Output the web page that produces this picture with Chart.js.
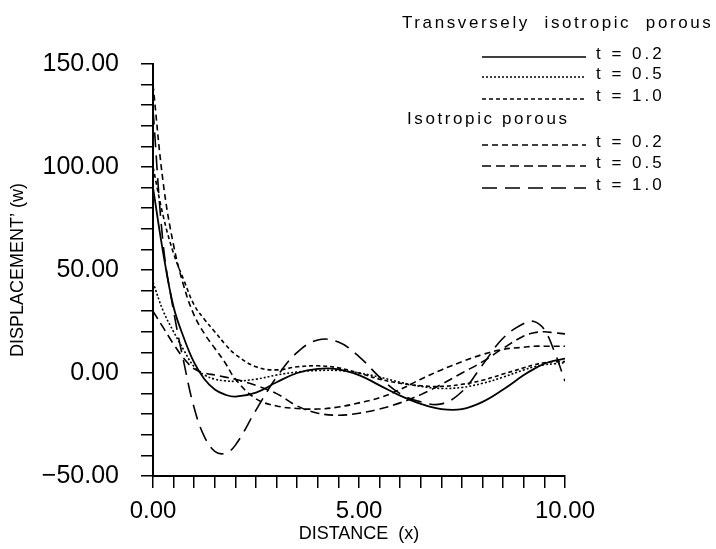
<!DOCTYPE html>
<html>
<head>
<meta charset="utf-8">
<script src="https://cdn.jsdelivr.net/npm/chart.js@4.4.1/dist/chart.umd.min.js"></script>
<style>
  html, body { margin: 0; padding: 0; background: #fff; }
  canvas { display: block; }
</style>
</head>
<body>
<canvas id="grafico" width="716" height="549"></canvas>
<script>
// distance values shared by all curves
const distancia = [0, 0.25, 0.5, 0.75, 1, 1.25, 1.5, 1.75, 2, 2.5, 3, 3.5, 4, 4.5, 5, 5.5, 6, 6.5, 7, 7.5, 8, 8.5, 9, 9.25, 9.5, 9.75, 10];

// transversely isotropic porous
const transT02 = [90, 58, 32, 17, 5, -3, -8, -10.5, -11.5, -9.5, -4.5, 0, 2, 1.8, -1, -6, -11, -15, -17.5, -17.5, -14, -8, -1, 2, 4.5, 6, 7];
const transT05 = [44, 30, 20, 11, 3, -1, -3, -3.8, -4, -3, -1, 0.5, 1.2, 1.2, 0, -2, -4.5, -6.5, -7.5, -7, -5, -2, 1.5, 3, 4, 4.5, 5];
const transT10 = [100, 76, 58, 45, 33, 26, 20, 14, 9, 3, 1.5, 3, 3.5, 2.5, 0, -3, -5, -6.2, -6.5, -5.5, -3.5, -0.5, 2.5, 4, 5, 5.5, 5.5];

// isotropic porous
const isoT02 = [140, 92, 62, 42, 28, 19, 12, 5, -3, -12.5, -16, -17.2, -17.5, -16.5, -14.5, -12, -8, -3, 1.5, 5.5, 9, 11.5, 12.5, 13, 13, 13, 13];
const isoT05 = [30, 22, 14, 7, 2, 0, -1, -2, -3, -6, -10, -16, -19.5, -20.5, -19.5, -17.5, -14.5, -10.5, -5.5, 0, 5.5, 12, 18, 19.5, 20, 19.5, 19];
const isoT10 = [128, 62, 30, 5, -17, -31, -38, -39, -35, -18, -2, 10, 16, 15, 8, -2, -10, -14, -15, -9, 4, 17, 24, 25, 21, 10, -4];

const grupos = ['Transversely  isotropic  porous', 'Isotropic porous'];
const etiquetas = ['t = 0.2', 't = 0.5', 't = 1.0'];

const yTickValores = [-50, 0, 50, 100, 150];
const yTickTextos = ['\u221250.00', '0.00', '50.00', '100.00', '150.00'];
const xTickValores = [0, 5, 10];
const xTickTextos = ['0.00', '5.00', '10.00'];

const series = [transT02, transT05, transT10, isoT02, isoT05, isoT10];
const trazos = [[], [2, 2], [4, 3], [6, 4], [9, 5], [15, 8]];

const datasets = series.map((valores, i) => ({
  label: etiquetas[i % 3],
  data: valores.map((v, j) => ({ x: distancia[j], y: v })),
  borderColor: '#000',
  borderWidth: i === 0 ? 1.8 : 1.6,
  borderDash: trazos[i],
  pointRadius: 0,
  fill: false,
  tension: 0.4
}));

// legend with the two group headers, drawn on the canvas
const leyenda = {
  id: 'leyenda',
  afterDraw(chart) {
    const ctx = chart.ctx;
    const filas = [57, 77, 99, 145, 166, 188];
    ctx.save();
    ctx.fillStyle = '#000';
    ctx.strokeStyle = '#000';
    ctx.textBaseline = 'middle';
    ctx.textAlign = 'left';
    ctx.font = '17px "Liberation Sans", Arial, sans-serif';
    ctx.letterSpacing = '2.6px';
    ctx.fillText(grupos[0], 402, 23);
    ctx.fillText(grupos[1], 407, 119);
    ctx.letterSpacing = '3px';
    chart.data.datasets.forEach((ds, i) => {
      const y = filas[i];
      ctx.lineWidth = 1.6;
      ctx.setLineDash(ds.borderDash);
      ctx.beginPath();
      ctx.moveTo(482, y);
      ctx.lineTo(586, y);
      ctx.stroke();
      ctx.setLineDash([]);
      ctx.fillText(ds.label, 596, y - 3);
    });
    ctx.restore();
  }
};

Chart.defaults.color = '#000';
Chart.defaults.font.family = '"Liberation Sans", Arial, sans-serif';

const ctx = document.getElementById('grafico').getContext('2d');
new Chart(ctx, {
  type: 'line',
  data: { datasets },
  options: {
    responsive: false,
    animation: false,
    devicePixelRatio: 1,
    layout: { padding: { top: 64, right: 151, left: 0, bottom: 0 } },
    plugins: {
      legend: { display: false },
      tooltip: { enabled: false }
    },
    scales: {
      x: {
        type: 'linear',
        min: 0,
        max: 10,
        ticks: {
          stepSize: 0.5,
          autoSkip: false,
          maxRotation: 0,
          padding: 9,
          font: { size: 24 },
          callback: v => {
            const k = xTickValores.indexOf(v);
            return k >= 0 ? xTickTextos[k] : '';
          }
        },
        grid: { drawOnChartArea: false, color: '#000', lineWidth: 1.5, tickLength: 12 },
        border: { color: '#000', width: 2 },
        title: { display: true, text: 'DISTANCE  (x)', font: { size: 18 }, padding: { top: 0, bottom: 4 } },
        afterFit: s => { s.height = 73; }
      },
      y: {
        min: -50,
        max: 150,
        ticks: {
          stepSize: 10,
          autoSkip: false,
          padding: 22,
          font: { size: 25 },
          callback: v => {
            const k = yTickValores.indexOf(v);
            return k >= 0 ? yTickTextos[k] : '';
          }
        },
        grid: { drawOnChartArea: false, color: '#000', lineWidth: 1.5, tickLength: 12 },
        border: { color: '#000', width: 2 },
        title: { display: true, text: "DISPLACEMENT\u2019 (w)", font: { size: 18 }, padding: { top: 7, bottom: 0 } },
        afterFit: s => { s.width = 153; }
      }
    }
  },
  plugins: [leyenda]
});
</script>
</body>
</html>
